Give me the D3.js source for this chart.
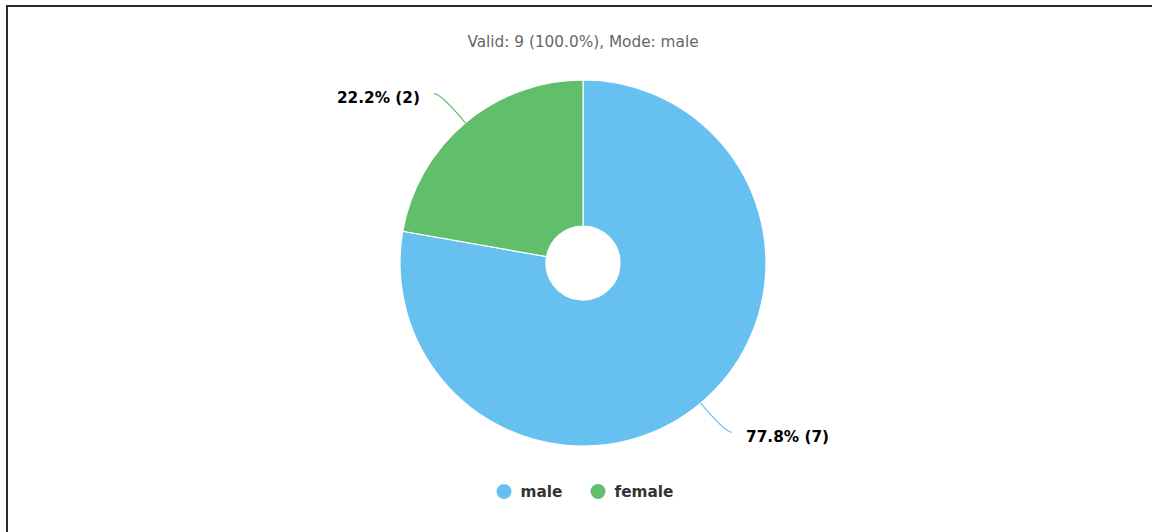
<!DOCTYPE html>
<html>
<head>
<meta charset="utf-8">
<script src="https://cdn.jsdelivr.net/npm/d3@7/dist/d3.min.js"></script>
<style>
  html, body { margin: 0; padding: 0; background: #fff; }
  svg { display: block; font-family: "DejaVu Sans", Verdana, sans-serif; }
</style>
</head>
<body>
<svg id="chart" width="1152" height="532"></svg>
<script>
// Gender frequencies
const categories = ["male", "female"];
const counts = [7, 2];
const colors = ["#66c0f0", "#61be6a"];
const title = "Valid: 9 (100.0%), Mode: male";

const W = 1152, H = 532;
const cx = 583, cy = 263;
const outerR = 183, innerR = 37;
const fs = 15.3;

const svg = d3.select("#chart");

// panel frame
svg.append("rect")
  .attr("x", 7).attr("y", 6)
  .attr("width", W + 20).attr("height", H + 20)
  .attr("fill", "none")
  .attr("stroke", "#2b2b2b")
  .attr("stroke-width", 2);

svg.append("text")
  .attr("x", cx).attr("y", 46.5)
  .attr("text-anchor", "middle")
  .attr("font-size", fs)
  .attr("fill", "#666")
  .text(title);

const total = d3.sum(counts);
const data = categories.map((c, i) => ({ name: c, value: counts[i], color: colors[i] }));

const pie = d3.pie().value(d => d.value).sort(null);
const arcs = pie(data);
const arc = d3.arc().innerRadius(innerR).outerRadius(outerR);

const g = svg.append("g").attr("transform", `translate(${cx},${cy})`);

g.selectAll("path.slice")
  .data(arcs)
  .join("path")
  .attr("class", "slice")
  .attr("d", arc)
  .attr("fill", d => d.data.color)
  .attr("stroke", "#fff")
  .attr("stroke-width", 1.2);

// leader lines and value labels
const polar = (r, a) => [r * Math.sin(a), -r * Math.cos(a)];
arcs.forEach(d => {
  const mid = (d.startAngle + d.endAngle) / 2;
  const right = Math.sin(mid) >= 0;
  const p0 = polar(outerR, mid);
  const elbow = polar(outerR + 38, mid);
  const end = [elbow[0] + (right ? 7 : -7), elbow[1]];
  g.append("path")
    .attr("d", `M${p0[0]},${p0[1]} Q${elbow[0]},${elbow[1]} ${end[0]},${end[1]}`)
    .attr("fill", "none")
    .attr("stroke", d.data.color)
    .attr("stroke-width", 1.2);
  const pct = (d.data.value / total * 100).toFixed(1);
  g.append("text")
    .attr("x", end[0] + (right ? 14 : -14))
    .attr("y", end[1] + 9.5)
    .attr("text-anchor", right ? "start" : "end")
    .attr("font-size", fs)
    .attr("font-weight", "bold")
    .attr("fill", "#000")
    .text(`${pct}% (${d.data.value})`);
});

// legend
const legendX = [504, 598];
const legend = svg.append("g");
data.forEach((d, i) => {
  legend.append("circle")
    .attr("cx", legendX[i]).attr("cy", 491.5)
    .attr("r", 7.5)
    .attr("fill", d.color);
  legend.append("text")
    .attr("x", legendX[i] + 16.5).attr("y", 497)
    .attr("font-size", fs)
    .attr("font-weight", "bold")
    .attr("fill", "#333")
    .text(d.name);
});
</script>
</body>
</html>
